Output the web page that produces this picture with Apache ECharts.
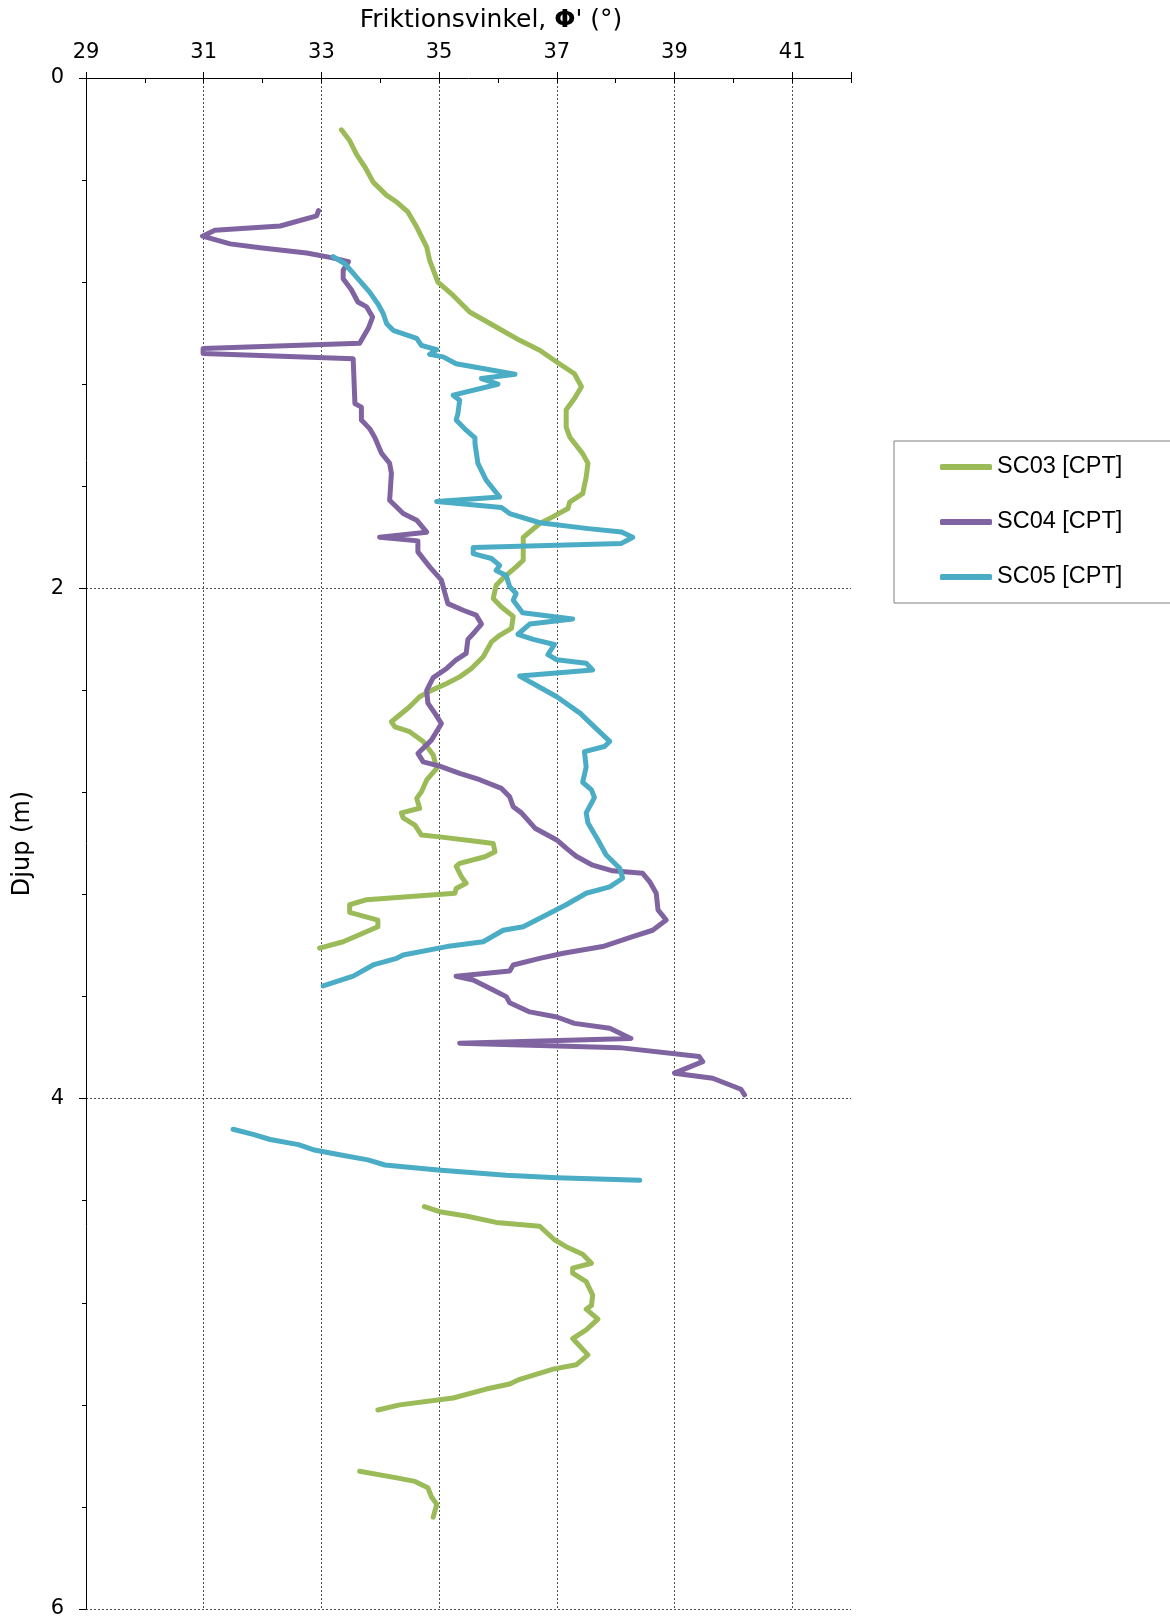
<!DOCTYPE html>
<html>
<head>
<meta charset="utf-8">
<script src="https://cdn.jsdelivr.net/npm/echarts@6/dist/echarts.min.js"></script>
<style>
  html, body { margin: 0; padding: 0; background: #ffffff; }
  #chart { width: 1170px; height: 1621px; }
</style>
</head>
<body>
<div id="chart"></div>
<script>
// Friction angle (degrees) against depth (m) for three CPT soundings.
const phiTicks = [29, 31, 33, 35, 37, 39, 41];
const depthTicks = [0, 2, 4, 6];
const seriesNames = ['SC03 [CPT]', 'SC04 [CPT]', 'SC05 [CPT]'];

// null marks a gap between measured intervals
const sc03Depth = [
  0.203, 0.245, 0.30, 0.349, 0.408, 0.46, 0.486, 0.525, 0.584, 0.663,
  0.715, 0.80, 0.852, 0.917, 0.976, 1.028, 1.067, 1.113, 1.159, 1.21,
  1.256, 1.30, 1.368, 1.407, 1.472, 1.51, 1.564, 1.629, 1.662, 1.687,
  1.72, 1.746, 1.80, 1.89, 1.916, 1.955, 1.988, 2.04, 2.073, 2.11,
  2.157, 2.184, 2.21, 2.268, 2.314, 2.347, 2.373, 2.40, 2.425, 2.464,
  2.523, 2.543, 2.562, 2.60, 2.653, 2.706, 2.751, 2.797, 2.823, 2.862,
  2.88, 2.90, 2.928, 2.967, 2.974, 2.993, 3.00, 3.032, 3.052, 3.078,
  3.09, 3.13, 3.156, 3.176, 3.195, 3.22, 3.24, 3.27, 3.30, 3.326,
  3.385, 3.41,
  null,
  4.423, 4.443, 4.46, 4.485, 4.50, 4.553, 4.58, 4.61, 4.645, 4.664,
  4.684, 4.717, 4.77, 4.81, 4.825, 4.864, 4.906, 4.94, 5.004, 5.043,
  5.06, 5.10, 5.118, 5.138, 5.173, 5.20, 5.22,
  null,
  5.46, 5.486, 5.50, 5.525, 5.56, 5.59, 5.64
];
const sc03Phi = [
  33.34, 33.48, 33.60, 33.74, 33.88, 34.11, 34.28, 34.47, 34.62, 34.79,
  34.84, 34.98, 35.24, 35.52, 35.97, 36.37, 36.71, 37.00, 37.30, 37.42,
  37.30, 37.16, 37.16, 37.22, 37.44, 37.53, 37.50, 37.44, 37.22, 37.19,
  36.93, 36.71, 36.43, 36.43, 36.31, 36.11, 35.97, 35.92, 36.06, 36.26,
  36.23, 36.03, 35.89, 35.75, 35.55, 35.35, 35.13, 34.87, 34.67, 34.50,
  34.19, 34.25, 34.50, 34.73, 34.90, 34.96, 34.79, 34.70, 34.62, 34.67,
  34.36, 34.39, 34.59, 34.70, 35.01, 35.69, 35.92, 35.95, 35.78, 35.35,
  35.29, 35.38, 35.46, 35.29, 35.27, 33.77, 33.48, 33.48, 33.96, 33.96,
  33.37, 32.97,
  null,
  34.75, 35.01, 35.46, 35.97, 36.71, 36.96, 37.16, 37.44, 37.59, 37.27,
  37.27, 37.50, 37.61, 37.59, 37.50, 37.70, 37.50, 37.27, 37.53, 37.33,
  36.94, 36.37, 36.20, 35.80, 35.24, 34.33, 33.96,
  null,
  33.65, 34.28, 34.59, 34.81, 34.87, 34.96, 34.90
];

const sc04Depth = [
  0.52, 0.54, 0.58, 0.597, 0.62, 0.65, 0.665, 0.686, 0.704, 0.72,
  0.754, 0.787, 0.83, 0.878, 0.897, 0.937, 0.98, 1.04, 1.06, 1.08,
  1.10, 1.276, 1.29, 1.34, 1.374, 1.41, 1.47, 1.51, 1.55, 1.655,
  1.707, 1.733, 1.78, 1.80, 1.814, 1.857, 1.916, 1.968, 2.02, 2.06,
  2.086, 2.105, 2.14, 2.17, 2.20, 2.255, 2.28, 2.314, 2.35, 2.40,
  2.45, 2.49, 2.53, 2.595, 2.647, 2.68, 2.697, 2.725, 2.75, 2.784,
  2.817, 2.856, 2.88, 2.94, 2.986, 3.02, 3.05, 3.085, 3.107, 3.117,
  3.15, 3.195, 3.26, 3.30, 3.34, 3.365, 3.404, 3.43, 3.45, 3.476,
  3.50, 3.52, 3.535, 3.574, 3.60, 3.624, 3.66, 3.68, 3.705, 3.724,
  3.764, 3.783, 3.80, 3.835, 3.855, 3.90, 3.92, 3.963, 3.985
];
const sc04Phi = [
  32.95, 32.92, 32.30, 31.19, 30.98, 31.45, 31.96, 32.75, 33.17, 33.46,
  33.37, 33.37, 33.51, 33.62, 33.77, 33.87, 33.80, 33.65, 30.99, 30.99,
  33.54, 33.57, 33.68, 33.68, 33.82, 33.91, 34.02, 34.16, 34.19, 34.16,
  34.39, 34.62, 34.79, 33.99, 34.64, 34.64, 34.84, 35.04, 35.10, 35.15,
  35.41, 35.63, 35.72, 35.61, 35.49, 35.46, 35.29, 35.13, 34.90, 34.79,
  34.81, 34.93, 35.04, 34.87, 34.64, 34.73, 35.01, 35.35, 35.69, 36.06,
  36.20, 36.26, 36.40, 36.63, 37.00, 37.17, 37.33, 37.61, 37.95, 38.46,
  38.58, 38.69, 38.72, 38.86, 38.63, 38.29, 37.78, 37.11, 36.71, 36.26,
  36.20, 35.29, 35.58, 35.92, 36.14, 36.20, 36.54, 37.00, 37.30, 37.90,
  38.26, 35.35, 38.07, 39.42, 39.48, 39.00, 39.65, 40.13, 40.19
];

const sc05Depth = [
  0.70, 0.728, 0.786, 0.839, 0.885, 0.923, 0.963, 0.989, 1.02, 1.048,
  1.065, 1.083, 1.093, 1.12, 1.161, 1.178, 1.20, 1.243, 1.263, 1.315,
  1.34, 1.38, 1.41, 1.433, 1.51, 1.576, 1.642, 1.66, 1.683, 1.707,
  1.743, 1.765, 1.779, 1.80, 1.824, 1.84, 1.864, 1.883, 1.91, 1.93,
  1.95, 1.994, 2.02, 2.047, 2.096, 2.12, 2.14, 2.18, 2.20, 2.22,
  2.26, 2.28, 2.294, 2.32, 2.344, 2.38, 2.425, 2.49, 2.55, 2.60,
  2.62, 2.64, 2.70, 2.76, 2.79, 2.82, 2.88, 2.92, 2.986, 3.045,
  3.097, 3.136, 3.17, 3.195, 3.24, 3.28, 3.326, 3.34, 3.385, 3.404,
  3.437, 3.45, 3.476, 3.52, 3.558,
  null,
  4.12, 4.14, 4.16, 4.18, 4.20, 4.22, 4.24, 4.26, 4.28, 4.30,
  4.31, 4.32
];
const sc05Phi = [
  33.20, 33.40, 33.62, 33.82, 33.96, 34.05, 34.11, 34.22, 34.62, 34.70,
  34.96, 34.84, 35.07, 35.29, 36.29, 35.72, 36.00, 35.24, 35.35, 35.32,
  35.29, 35.46, 35.61, 35.61, 35.66, 35.80, 36.03, 34.96, 36.06, 36.20,
  36.71, 37.50, 38.10, 38.29, 38.10, 35.58, 35.58, 35.89, 36.03, 35.97,
  36.14, 36.20, 36.31, 36.26, 36.42, 37.27, 36.54, 36.34, 36.60, 36.96,
  36.85, 37.00, 37.50, 37.61, 36.37, 36.65, 37.00, 37.40, 37.67, 37.90,
  37.81, 37.47, 37.50, 37.44, 37.59, 37.64, 37.50, 37.53, 37.70, 37.84,
  38.07, 38.12, 37.90, 37.50, 37.16, 36.82, 36.43, 36.09, 35.75, 35.13,
  34.39, 34.28, 33.88, 33.54, 33.03,
  null,
  31.50, 31.84, 32.13, 32.61, 32.86, 33.31, 33.79, 34.08, 34.98, 36.14,
  37.00, 38.41
];

const seriesColors = ['#9BBB59', '#8064A2', '#4BACC6'];

function toPairs(depth, phi) {
  return depth.map((d, i) => (d === null || phi[i] === null) ? ['-', '-'] : [phi[i], d]);
}

const profiles = [
  toPairs(sc03Depth, sc03Phi),
  toPairs(sc04Depth, sc04Phi),
  toPairs(sc05Depth, sc05Phi)
];

const gridStyle = { color: '#4d4d4d', type: [2, 2], width: 1 };
const tickFont = 'DejaVu Sans, Verdana, sans-serif';
const legendFont = 'Liberation Sans, Arial, sans-serif';

const chart = echarts.init(document.getElementById('chart'), null, { renderer: 'canvas' });
chart.setOption({
  animation: false,
  backgroundColor: '#ffffff',
  grid: { left: 86, right: 319, top: 78, bottom: 12, containLabel: false, outerBoundsMode: 'none' },
  graphic: [{
    type: 'text',
    x: 491,
    y: 20,
    silent: true,
    style: {
      text: '{n|Friktionsvinkel, }{b|\u03A6}{n|\' (\u00B0)}',
      align: 'center',
      verticalAlign: 'middle',
      rich: {
        n: { fontFamily: tickFont, fontSize: 25, fill: '#000' },
        b: { fontFamily: tickFont, fontSize: 25, fontWeight: 'bold', fill: '#000' }
      }
    }
  }],
  xAxis: [{
    type: 'value',
    position: 'top',
    min: 29,
    max: 42,
    interval: 2,
    axisLine: { show: true, onZero: false, lineStyle: { color: '#000', width: 1 } },
    axisTick: { show: true, inside: false, length: 6, lineStyle: { color: '#000', width: 1 } },
    axisLabel: {
      margin: 15,
      fontFamily: tickFont,
      fontSize: 21,
      color: '#000',
      formatter: v => (phiTicks.indexOf(v) >= 0 ? String(v) : '')
    },
    splitLine: { show: true, showMinLine: false, showMaxLine: false, lineStyle: gridStyle }
  }, {
    // minor tick marks inside the plot at every degree
    type: 'value',
    position: 'top',
    gridIndex: 0,
    min: 29,
    max: 42,
    interval: 1,
    axisLine: { show: false, onZero: false },
    axisTick: { show: true, inside: true, length: 5, lineStyle: { color: '#000', width: 1 } },
    axisLabel: { show: false },
    splitLine: { show: false }
  }],
  yAxis: {
    type: 'value',
    inverse: true,
    min: 0,
    max: 6,
    interval: 2,
    name: 'Djup (m)',
    nameLocation: 'middle',
    nameGap: 51,
    nameTextStyle: { fontFamily: tickFont, fontSize: 24, color: '#000' },
    axisLine: { show: true, onZero: false, lineStyle: { color: '#000', width: 1 } },
    axisTick: { show: true, inside: false, length: 7, lineStyle: { color: '#000', width: 1 } },
    minorTick: { show: true, splitNumber: 5, length: 4, lineStyle: { color: '#000', width: 1 } },
    axisLabel: {
      margin: 22,
      fontFamily: tickFont,
      fontSize: 21,
      color: '#000',
      formatter: v => (depthTicks.indexOf(v) >= 0 ? String(v) : '')
    },
    splitLine: { show: true, showMinLine: false, showMaxLine: true, lineStyle: gridStyle }
  },
  legend: {
    orient: 'vertical',
    left: 894,
    top: 441,
    padding: [14, 90, 14, 46],
    itemWidth: 52,
    itemHeight: 6,
    itemGap: 31,
    icon: 'roundRect',
    borderColor: '#808080',
    borderWidth: 1,
    backgroundColor: '#ffffff',
    textStyle: { fontFamily: legendFont, fontSize: 23.5, color: '#000' },
    data: seriesNames
  },
  series: seriesNames.map((name, i) => ({
    name: name,
    type: 'line',
    xAxisIndex: 0,
    yAxisIndex: 0,
    data: profiles[i],
    symbol: 'none',
    showSymbol: false,
    connectNulls: false,
    silent: true,
    color: seriesColors[i],
    itemStyle: { color: seriesColors[i] },
    lineStyle: { width: 5, color: seriesColors[i], cap: 'round', join: 'round' }
  }))
});
</script>
</body>
</html>
